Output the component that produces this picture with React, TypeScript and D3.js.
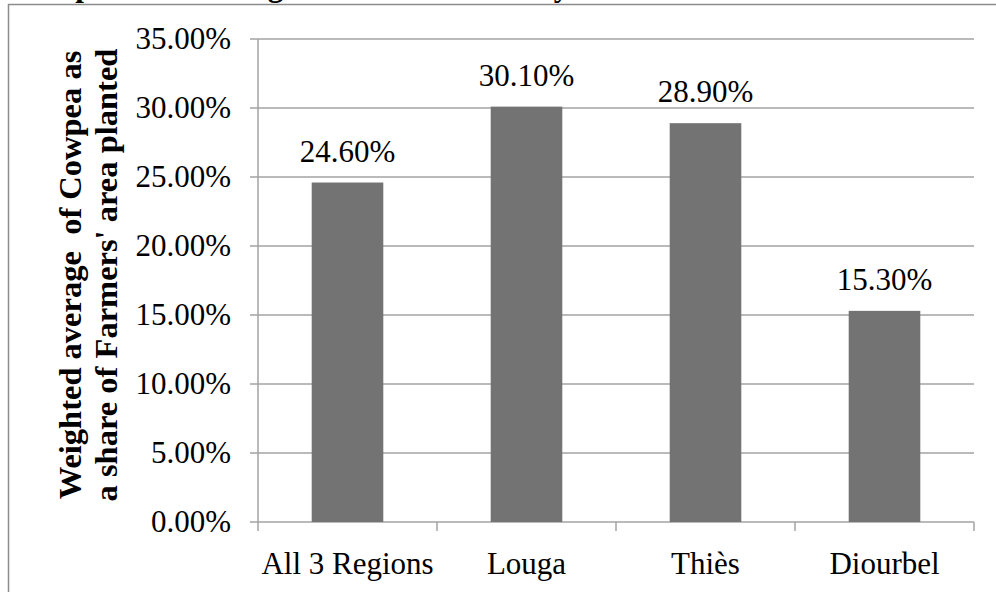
import React from "react";
import * as d3 from "d3";

const categories: string[] = ["All 3 Regions", "Louga", "Thiès", "Diourbel"];
const shares: number[] = [24.6, 30.1, 28.9, 15.3];
const yTicks: number[] = [0, 5, 10, 15, 20, 25, 30, 35];
const yTitleLines: string[] = ["Weighted average\u00A0 of Cowpea as", "a share of Farmers' area planted"];
const chartTitle = "Graph 4: Percentage of the Land Area by Zone";

const W = 996;
const H = 592;
const left = 258;
const right = 974;
const top = 39;
const bottom = 522;
const font = "'Liberation Serif', 'Times New Roman', serif";

export default function App() {
  const x = d3.scaleBand<string>().domain(categories).range([left, right]).paddingInner(0.6).paddingOuter(0.3);
  const xOuter = d3.scaleBand<string>().domain(categories).range([left, right]).padding(0);
  const y = d3.scaleLinear().domain([0, 35]).range([bottom, top]);
  const grid = "#a3a3a3";
  const boundaries = categories.map((c) => (xOuter(c) as number) + xOuter.bandwidth());

  return (
    <svg
      width={W}
      height={H}
      style={{ position: "fixed", left: 0, top: 0, background: "#fff" }}
      fontFamily={font}
    >
      <rect x={0} y={0} width={W} height={H} fill="#fff" />
      <text x={22} y={-4} fontSize={31} fontWeight="bold" fill="#000">{chartTitle}</text>
      {/* outer frame */}
      <rect x={8.5} y={4.5} width={W + 20} height={H + 20} fill="none" stroke="#8c8c8c" strokeWidth={1.5} />
      {/* gridlines */}
      {yTicks.map((t) => (
        <line key={"g" + t} x1={left - 8} x2={right} y1={y(t)} y2={y(t)} stroke={grid} strokeWidth={1.5} />
      ))}
      {/* y axis */}
      <line x1={left} x2={left} y1={top} y2={bottom + 9} stroke={grid} strokeWidth={1.5} />
      {boundaries.map((b, i) => (
        <line key={"xt" + i} x1={b} x2={b} y1={bottom} y2={bottom + 9} stroke={grid} strokeWidth={1.5} />
      ))}
      {/* y tick labels */}
      {yTicks.map((t) => (
        <text key={"yl" + t} x={231} y={y(t) + 10} fontSize={31} textAnchor="end" fill="#000">
          {t.toFixed(2) + "%"}
        </text>
      ))}
      {/* bars */}
      {categories.map((c, i) => (
        <rect
          key={"b" + c}
          x={x(c) as number}
          y={y(shares[i])}
          width={x.bandwidth()}
          height={bottom - y(shares[i])}
          fill="#737373"
        />
      ))}
      {/* data labels */}
      {categories.map((c, i) => (
        <text
          key={"dl" + c}
          x={(x(c) as number) + x.bandwidth() / 2}
          y={y(shares[i]) - 21}
          fontSize={31}
          textAnchor="middle"
          fill="#000"
        >
          {shares[i].toFixed(2) + "%"}
        </text>
      ))}
      {/* category labels */}
      {categories.map((c) => (
        <text
          key={"cl" + c}
          x={(xOuter(c) as number) + xOuter.bandwidth() / 2}
          y={574}
          fontSize={31}
          textAnchor="middle"
          fill="#000"
        >
          {c}
        </text>
      ))}
      {/* y axis title */}
      <g transform={`translate(0, 275) rotate(-90)`}>
        {yTitleLines.map((l, i) => (
          <text key={"yt" + i} x={0} y={81 + i * 36} fontSize={32.5} fontWeight="bold" textAnchor="middle" fill="#000">
            {l}
          </text>
        ))}
      </g>
    </svg>
  );
}
